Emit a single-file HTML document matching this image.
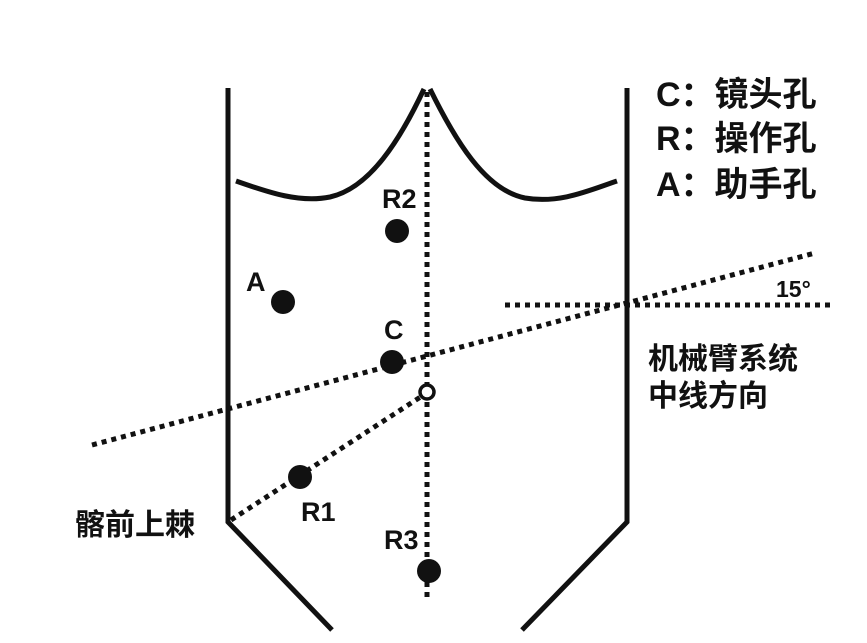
<!DOCTYPE html>
<html><head><meta charset="utf-8"><style>
html,body{margin:0;padding:0;background:#fff;}
svg text{font-family:"Liberation Sans","Noto Sans CJK SC",sans-serif;font-weight:bold;fill:#111;}
</style></head><body>
<svg width="867" height="638" viewBox="0 0 867 638" xmlns="http://www.w3.org/2000/svg">
<g fill="none" stroke="#111" stroke-width="5">
<polyline points="228,88 228,522 332,630"/>
<polyline points="627,88 627,522 522,630"/>
<path d="M236,181 C270,193 300,203 330,197 C370,188 400,140 424,89"/>
<path d="M430,89 C455,140 485,190 525,198 C560,204 590,190 617,181"/>
</g>
<g fill="none" stroke="#111" stroke-width="5" stroke-dasharray="5,5">
<line x1="427" y1="92" x2="427" y2="600"/>
<line x1="92" y1="445" x2="815" y2="253"/>
<line x1="505" y1="305" x2="832" y2="305"/>
<line x1="231" y1="520" x2="422" y2="396"/>
</g>
<circle cx="427" cy="392" r="7" fill="#fff" stroke="#111" stroke-width="3.5"/>
<g fill="#111">
<circle cx="397" cy="231" r="12"/>
<circle cx="283" cy="302" r="12"/>
<circle cx="392" cy="362" r="12"/>
<circle cx="300" cy="477" r="12"/>
<circle cx="429" cy="571" r="12"/>
</g>
<g font-size="27">
<text x="382" y="208">R2</text>
<text x="246" y="291">A</text>
<text x="384" y="339">C</text>
<text x="301" y="521">R1</text>
<text x="384" y="549">R3</text>
<text x="776" y="297" font-size="23">15°</text>
<text x="648" y="369" font-size="30">机械臂系统</text>
<text x="648" y="406" font-size="30">中线方向</text>
<text x="75" y="535" font-size="30">髂前上棘</text>
</g>
<g font-size="34">
<text x="656" y="106">C：镜头孔</text>
<text x="656" y="150">R：操作孔</text>
<text x="656" y="196">A：助手孔</text>
</g>
</svg>
</body></html>
